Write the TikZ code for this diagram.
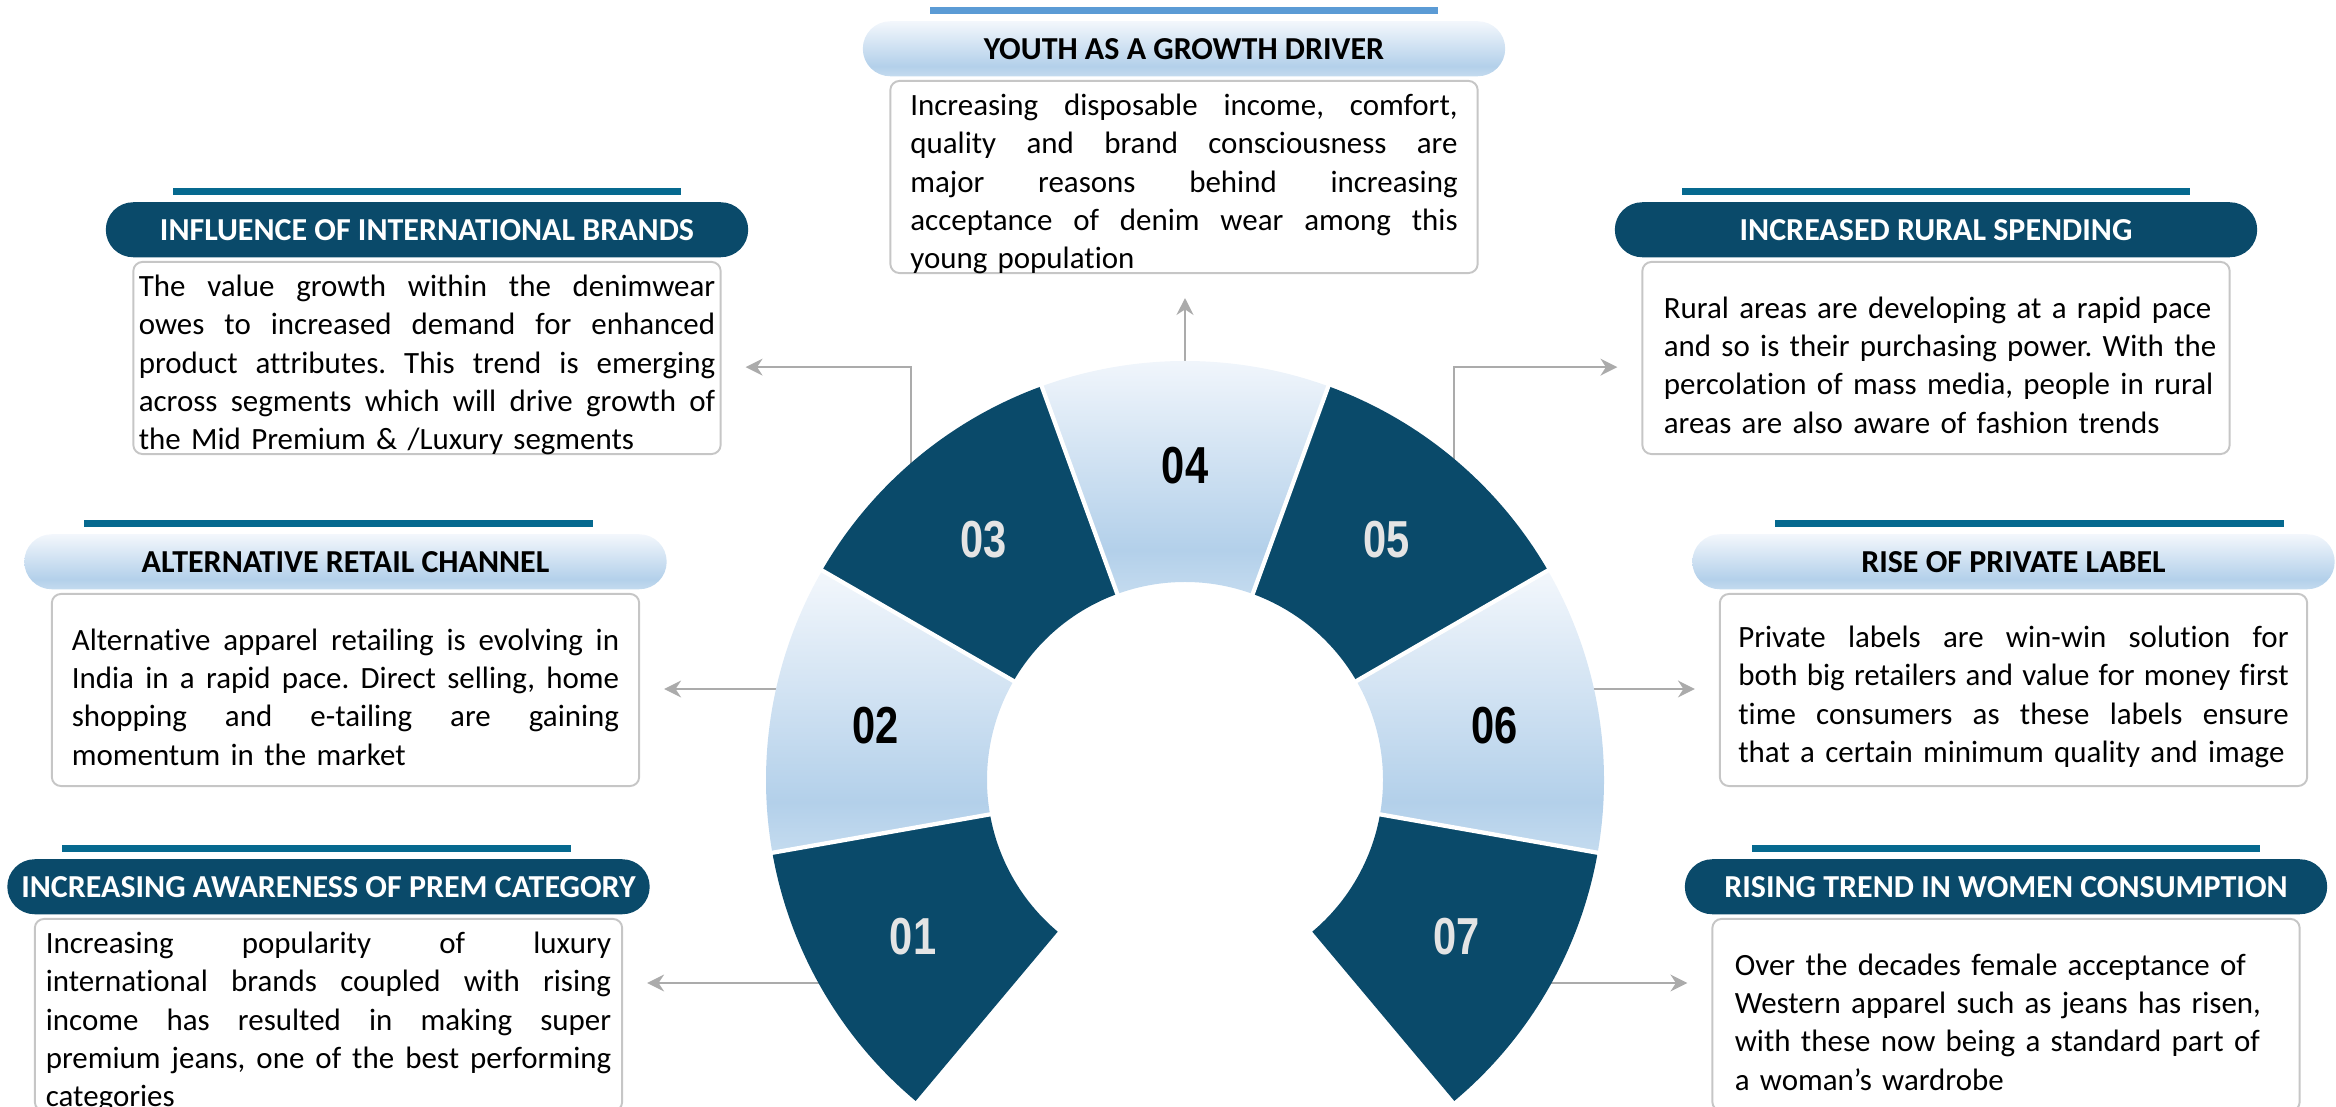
\documentclass[tikz,border=0pt]{standalone}
\usepackage{fontspec}
\setmainfont{Carlito}[Ligatures=NoCommon]
\newfontfamily\numfont[FakeStretch=0.8]{Liberation Sans}
\usetikzlibrary{positioning,arrows.meta}
\frenchspacing

\definecolor{ringdark}{HTML}{0A4A6A}
\definecolor{barteal}{HTML}{06698F}
\definecolor{barlight}{HTML}{5B9BD5}
\definecolor{bandtop}{HTML}{F3F7FC}
\definecolor{bandblue}{HTML}{B3D0EA}
\definecolor{bandlow}{HTML}{C4DBEF}
\definecolor{linkgray}{HTML}{ABABAB}
\definecolor{boxgray}{HTML}{C6C6C6}
\definecolor{numgray}{HTML}{E4E4E4}

\pgfdeclareverticalshading{lightband}{100bp}{color(0bp)=(bandlow); color(25bp)=(bandlow); color(34bp)=(bandblue); color(75bp)=(bandtop); color(100bp)=(bandtop)}

\newlength{\jw}
\newcommand{\fullline}[1]{\makebox[\jw][s]{\spaceskip=0pt\relax #1}}

\tikzset{
  darkseg/.style={fill=ringdark},
  lightseg/.style={shade, shading=lightband},
  numlab/.style={font=\numfont\bfseries\fontsize{14.8}{15}\selectfont, inner sep=0pt},
  bodybox/.style={draw=boxgray, line width=0.55pt, rounded corners=2.6pt, fill=white,
    minimum width=5.87cm, minimum height=1.92cm, inner sep=0pt},
  bodytext/.style={inner sep=0pt, font=\fontsize{8.8}{10.9}\selectfont},
  pill/.style={rounded corners=7.8pt, minimum width=6.42cm, minimum height=0.55cm, inner sep=0pt,
    font=\bfseries\fontsize{9.1}{11}\selectfont},
  pilldark/.style={pill, fill=ringdark, text=white},
  pilllight/.style={pill, shade, shading=lightband, text=black},
  topbar/.style={fill=barteal, minimum width=5.08cm, minimum height=0.07cm, inner sep=0pt},
  link/.style={draw=linkgray, line width=0.7pt, -{Stealth[length=4.8pt, width=4.8pt]}, shorten >=0.24cm}
}

\begin{document}
\begin{tikzpicture}[x=0.01cm, y=0.01cm]
\useasboundingbox (0,0) rectangle (2336,-1107);

% text boxes
\node[bodybox] (b1) at (328.5,-1015) {};
\node[bodybox] (b2) at (345.5,-690) {};
\node[bodybox] (b3) at (427,-358) {};
\node[bodybox] (b4) at (1184,-177) {};
\node[bodybox] (b5) at (1936,-358) {};
\node[bodybox] (b6) at (2013.5,-690) {};
\node[bodybox] (b7) at (2006,-1015) {};

\setlength{\jw}{5.65cm}
\node[bodytext, text width=\jw] (x1) at ([yshift=-2pt]b1.center) {\fullline{Increasing popularity of luxury}\\
  \fullline{international brands coupled with rising}\\ \fullline{income has resulted in making super}\\
  \fullline{premium jeans, one of the best performing}\\ \mbox{categories}};
\setlength{\jw}{5.47cm}
\node[bodytext, text width=\jw] (x2) at ([yshift=-2pt]b2.center) {\fullline{Alternative apparel retailing is evolving in}\\
  \fullline{India in a rapid pace. Direct selling, home}\\ \fullline{shopping and e-tailing are gaining}\\
  \mbox{momentum in the market}};
\setlength{\jw}{5.76cm}
\node[bodytext, text width=\jw] (x3) at ([yshift=-2pt]b3.center) {\fullline{The value growth within the denimwear}\\
  \fullline{owes to increased demand for enhanced}\\ \fullline{product attributes. This trend is emerging}\\
  \fullline{across segments which will drive growth of}\\ \mbox{the Mid Premium \& /Luxury segments}};
\setlength{\jw}{5.47cm}
\node[bodytext, text width=\jw] (x4) at ([yshift=-2pt]b4.center) {\fullline{Increasing disposable income, comfort,}\\
  \fullline{quality and brand consciousness are}\\ \fullline{major reasons behind increasing}\\
  \fullline{acceptance of denim wear among this}\\ \mbox{young population}};
\node[bodytext, text width=5.44cm] (x5) at ([yshift=-2pt]b5.center) {\mbox{Rural areas are developing at a rapid pace}\\
  \mbox{and so is their purchasing power. With the}\\ \mbox{percolation of mass media, people in rural}\\
  \mbox{areas are also aware of fashion trends}};
\setlength{\jw}{5.50cm}
\node[bodytext, text width=\jw] (x6) at ([yshift=-2pt]b6.center) {\fullline{Private labels are win-win solution for}\\
  \fullline{both big retailers and value for money first}\\ \fullline{time consumers as these labels ensure}\\
  \mbox{that a certain minimum quality and image}};
\node[bodytext, text width=5.42cm] (x7) at ([yshift=-2pt]b7.center) {\mbox{Over the decades female acceptance of}\\
  \mbox{Western apparel such as jeans has risen,}\\ \mbox{with these now being a standard part of}\\
  \mbox{a woman’s wardrobe}};

% headers
\node[pilldark, above=0.03cm of b1] (h1) {INCREASING AWARENESS OF PREM CATEGORY};
\node[pilllight, above=0.03cm of b2] (h2) {ALTERNATIVE RETAIL CHANNEL};
\node[pilldark, above=0.03cm of b3] (h3) {INFLUENCE OF INTERNATIONAL BRANDS};
\node[pilllight, above=0.03cm of b4] (h4) {YOUTH AS A GROWTH DRIVER};
\node[pilldark, above=0.03cm of b5] (h5) {INCREASED RURAL SPENDING};
\node[pilllight, above=0.03cm of b6] (h6) {RISE OF PRIVATE LABEL};
\node[pilldark, above=0.03cm of b7] (h7) {RISING TREND IN WOMEN CONSUMPTION};

\node[topbar, above=0.06cm of h1, xshift=-0.12cm] (t1) {};
\node[topbar, above=0.06cm of h2, xshift=-0.07cm] (t2) {};
\node[topbar, above=0.06cm of h3] (t3) {};
\node[topbar, fill=barlight, above=0.06cm of h4] (t4) {};
\node[topbar, above=0.06cm of h5] (t5) {};
\node[topbar, above=0.06cm of h6, xshift=0.16cm] (t6) {};
\node[topbar, above=0.06cm of h7] (t7) {};

% connectors
\coordinate (c1) at (840,-983);
\coordinate (c2) at (800,-689);
\coordinate (c3) at (911,-480);
\coordinate (c4) at (1185,-400);
\coordinate (c5) at (1454,-480);
\coordinate (c6) at (1570,-689);
\coordinate (c7) at (1530,-983);
\draw[link] (c1) -- (c1 -| b1.east);
\draw[link] (c2) -- (c2 -| b2.east);
\draw[link] (c3) |- ([yshift=-2.6pt]b3.east);
\draw[link] (c4) -- (c4 |- b4.south);
\draw[link] (c5) |- ([yshift=-2.6pt]b5.west);
\draw[link] (c6) -- (c6 -| b6.west);
\draw[link] (c7) -- (c7 -| b7.west);

% ring
\begin{scope}[shift={(1185,-780)}]
\foreach \a/\segsty/\numsty [count=\i] in {230/darkseg/numgray, 190/lightseg/black, 150/darkseg/numgray,
    110/lightseg/black, 70/darkseg/numgray, 30/lightseg/black, -10/darkseg/numgray}{
  \pgfmathsetmacro{\b}{\a-40}
  \pgfmathsetmacro{\m}{\a-20}
  \path[\segsty] (\a:198) -- (\a:419) arc[start angle=\a, end angle=\b, radius=419]
    -- (\b:198) arc[start angle=\b, end angle=\a, radius=198] -- cycle;
  \node[numlab, text=\numsty] (n\i) at (\m:314) {0\i};
}
\foreach \a in {190,150,...,-10}
  \draw[white, line width=1.2pt] (\a:192) -- (\a:424);
\end{scope}
\end{tikzpicture}
\end{document}
